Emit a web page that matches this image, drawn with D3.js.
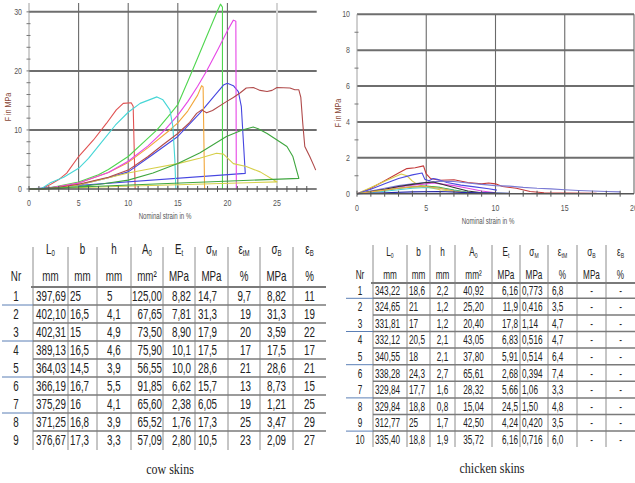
<!DOCTYPE html>
<html><head><meta charset="utf-8">
<script src="https://cdn.jsdelivr.net/npm/d3@7"></script>
<style>
html,body{margin:0;padding:0;background:#fff;}
svg{display:block;}
.n{font-family:'Liberation Sans',Arial,sans-serif;}
.cap{font-family:'Liberation Serif','Times New Roman',serif;}
</style></head><body>
<svg id="c" width="635" height="483"></svg>
<script>
// ---------- DATA ----------
// cow skins stress-strain curves: [strain %, stress MPa]
const cow1 = [[0,0],[1.2,0],[2.1,0.7],[3,1.6],[3.8,2.7],[5,5.5],[6.5,8.3],[7.8,11.1],[8.8,13.4],[9.5,14.5],[10.3,14.6],[10.5,14],[10.7,0]];
const cow2 = [[0,0],[1.5,0],[3,0.5],[5,1.2],[7,2.4],[8,3.3],[10,5.5],[12,8.6],[12.9,10],[14,12.2],[15,14.3],[16,18.2],[17,22.2],[18,26.2],[19,30.2],[19.3,31.3],[19.5,30.8],[19.5,0]];
const cow3 = [[0,0],[1.5,0],[3,0.3],[5,0.7],[8,1.9],[10,2.9],[12.2,5.5],[15,8.9],[17.2,12.8],[18.6,15.6],[19.6,17.6],[20,17.9],[20.6,17.5],[21.1,16.5],[21.4,14],[21.8,2.65],[0,0]];
const cow4 = [[0,0],[1.5,0],[3,0.4],[5,1],[8,2.8],[10,4.5],[12,7],[14.2,10],[15,11.2],[16,13.2],[17,15.9],[17.4,17.5],[17.55,17.3],[17.7,0]];
const cow5 = [[0,0],[1.5,0],[3,0.4],[5,1],[8,2.8],[10,4.7],[12,7.3],[13.7,10],[15,12.5],[16,14.8],[17,17.4],[17.9,20],[19,23.5],[20,26.8],[20.6,28.6],[20.85,28.4],[20.9,0]];
const cow6 = [[0,0],[1.2,0],[2.1,1],[3.5,2],[5,3.5],[6,5.2],[7.2,7.7],[8.7,10.8],[10,13],[11.2,14.5],[12.9,15.6],[13.5,15.1],[14.2,13.4],[14.5,10.6],[14.7,5],[14.8,0]];
const cow7 = [[0,0],[2,0],[5,0.7],[7.5,1.7],[10,2.7],[12.5,3.5],[15,4.3],[17.2,5.2],[18.9,6.05],[19.6,5.9],[20.6,4.3],[21.9,3.8],[23.3,2.9],[25,1.2],[0,0]];
const cow8 = [[0,0],[1,0],[3,0.3],[5,0.8],[8,2],[10,3.2],[12,5.5],[13.5,7.5],[15,9.4],[16.2,11.3],[16.9,12.8],[17.4,13.4],[17.9,12.9],[18.5,13.3],[19.9,14.8],[20.6,15.5],[21.3,16.3],[21.9,17.1],[22.6,17.2],[23.3,16.7],[24,16.5],[24.5,16.7],[25,17.2],[26.3,17.1],[26.8,16.8],[27.2,16.8],[27.4,15.5],[27.6,11],[27.8,7.2],[28.3,5.5],[28.7,4],[28.9,3.2]];
const cow9 = [[0,0],[1,0],[3,0.1],[5,0.4],[7.5,0.9],[10,1.5],[12.5,2.7],[15,4.3],[17.2,6.1],[19.9,8.9],[21.5,10],[22.6,10.5],[23.1,10.2],[24,9.4],[25,8.3],[26,7.2],[26.6,5.5],[27.2,1.8],[0,0]];
const cowColors = ["#e05252","#4fd64f","#4646e0","#f2a63a","#e646e6","#46d6d6","#d6cf4a","#b04a4a","#3fa63f"];

// chicken skins curves
const ch1 = [[0,0],[1,0.3],[2,0.72],[3,1.15],[3.6,1.4],[4.2,1.45],[4.8,1.55],[5,1.1],[5.3,0.85],[6,0.75],[7,0.78],[8,0.62],[9,0.55],[9.5,0.6],[10,0.55],[10.5,0.4],[11.5,0.3],[12.5,0.12],[13.5,0.05],[15,0.03],[17.3,0.02]];
const ch2 = [[0,0],[1,0.35],[2,0.7],[3.2,1.1],[3.6,1.0],[4,0.7],[4.4,0.5],[5,0.38],[6,0.22],[7,0.12],[8,0.05],[9,0.02]];
const ch3 = [[0,0],[1,0.25],[2,0.55],[3,0.85],[4,1.05],[4.7,1.15],[4.9,0.8],[5.2,0.72],[5.5,0.85],[5.8,0.8],[6.5,0.62],[7.5,0.48],[8.5,0.38],[9.5,0.28],[10.1,0.2]];
const ch4 = [[0,0],[1,0.15],[2,0.3],[3,0.45],[4,0.55],[5,0.62],[6,0.7],[7,0.68],[8,0.6],[9,0.52],[10,0.45],[11,0.42],[12,0.35],[13,0.3],[14,0.27],[15,0.22],[16,0.18],[17,0.15],[18,0.12],[19,0.1]];
const ch5 = [[0,0],[1,0.12],[2,0.25],[3,0.38],[4,0.48],[5,0.55],[5.5,0.6],[6,0.55],[7,0.45],[8,0.3],[9,0.15],[10,0.05]];
const ch6 = [[0,0],[1,0.12],[2,0.25],[3,0.4],[4,0.52],[5,0.62],[5.5,0.65],[6,0.55],[7,0.35],[8,0.15],[9,0.05],[10,0.02]];
const ch7 = [[0,0],[1,0.1],[2,0.2],[3,0.3],[4,0.38],[5,0.42],[6,0.35],[7,0.2],[8,0.08],[9,0.03],[11,0.01],[13,0.01]];
const ch8 = [[0,0],[1,0.06],[2,0.14],[3,0.22],[4,0.3],[5,0.35],[6,0.3],[7,0.18],[8,0.06],[9,0.01]];
const ch9 = [[0,0],[1,0.1],[2,0.2],[3,0.3],[4,0.38],[5,0.4],[6,0.3],[7,0.15],[8,0.05],[9,0.02]];
const ch10 = [[0,0],[2,0.05],[4,0.1],[6,0.12],[8,0.06],[10,0.03],[11,0.02]];
const chColors = ["#c43a3a","#d8cc4c","#4a4ae0","#7a7ad4","#e04ae0","#333333","#34a834","#4ad4d4","#f0a848","#2828a8"];

// tick labels
const cowXTicks = [0,5,10,15,20,25];
const cowYTicks = [0,10,20,30];
const chXTicks = [0,5,10,15,20];
const chYTicks = [0,2,4,6,8,10];
const xTitle = "Nominal strain in %";
const yTitle = "F in MPa";

// tables
const headMain = [["L","0"],["b",""],["h",""],["A","0"],["E","t"],["σ","M"],["ε","tM"],["σ","B"],["ε","B"]];
const headUnits = ["mm","mm","mm","mm²","MPa","MPa","%","MPa","%"];
const cowRows = [
["1","397,69","25","5","125,00","8,82","14,7","9,7","8,82","11"],
["2","402,10","16,5","4,1","67,65","7,81","31,3","19","31,3","19"],
["3","402,31","15","4,9","73,50","8,90","17,9","20","3,59","22"],
["4","389,13","16,5","4,6","75,90","10,1","17,5","17","17,5","17"],
["5","364,03","14,5","3,9","56,55","10,0","28,6","21","28,6","21"],
["6","366,19","16,7","5,5","91,85","6,62","15,7","13","8,73","15"],
["7","375,29","16","4,1","65,60","2,38","6,05","19","1,21","25"],
["8","371,25","16,8","3,9","65,52","1,76","17,3","25","3,47","29"],
["9","376,67","17,3","3,3","57,09","2,80","10,5","23","2,09","27"]];
const chickenRows = [
["1","343,22","18,6","2,2","40,92","6,16","0,773","6,8","-","-"],
["2","324,65","21","1,2","25,20","11,9","0,416","3,5","-","-"],
["3","331,81","17","1,2","20,40","17,8","1,14","4,7","-","-"],
["4","332,12","20,5","2,1","43,05","6,83","0,516","4,7","-","-"],
["5","340,55","18","2,1","37,80","5,91","0,514","6,4","-","-"],
["6","338,28","24,3","2,7","65,61","2,68","0,394","7,4","-","-"],
["7","329,84","17,7","1,6","28,32","5,66","1,06","3,3","-","-"],
["8","329,84","18,8","0,8","15,04","24,5","1,50","4,8","-","-"],
["9","312,77","25","1,7","42,50","4,24","0,420","3,5","-","-"],
["10","335,40","18,8","1,9","35,72","6,16","0,716","6,0","-","-"]];
const captions = ["cow skins","chicken skins"];

// ---------- DRAW ----------
const svg = d3.select("#c");

// condensed text helper
function ntext(g, x, y, str, o){
  const t = g.append("text").attr("class", o.cls || "n")
    .attr("transform", `translate(${x},${y}) scale(${o.sx||0.75},1)`)
    .attr("text-anchor", o.anchor || "start")
    .attr("font-size", o.size).attr("fill", o.fill || "#222");
  if(str !== null) t.text(str);
  return t;
}

function chart(cfg){
  const {x, y, xTicks, yTicks, xMinor, yMinor, vGrid, hGrid, curves, colors, yTop, ylabX, ylabY, xlabX, xlabY, lightV} = cfg;
  const g = svg.append("g");
  const x0 = x.range()[0], x1 = x.range()[1], y0 = y(0);
  g.selectAll("line.hg").data(hGrid).join("line").attr("class","hg")
    .attr("x1", x0).attr("x2", x1).attr("y1", d=>y(d)).attr("y2", d=>y(d))
    .attr("stroke","#6e6e6e").attr("stroke-width",2);
  g.selectAll("line.vg").data(vGrid).join("line").attr("class","vg")
    .attr("x1", d=>x(d)).attr("x2", d=>x(d)).attr("y1", yTop).attr("y2", y0)
    .attr("stroke", d=> lightV && lightV.includes(d) ? "#d4d4d4" : "#6a6a6a")
    .attr("stroke-width", d=> lightV && lightV.includes(d) ? 2 : 1.1);
  g.append("line").attr("x1",x0).attr("x2",x0).attr("y1",yTop).attr("y2",y0).attr("stroke","#a0a0a0").attr("stroke-width",1);
  g.selectAll("line.ym").data(yMinor).join("line").attr("class","ym")
    .attr("x1",x0-2.5).attr("x2",x0+1.5).attr("y1",d=>y(d)).attr("y2",d=>y(d)).attr("stroke","#777").attr("stroke-width",1);
  const line = d3.line().x(d=>x(d[0])).y(d=>y(d[1]));
  g.selectAll("path.cv").data(curves).join("path").attr("class","cv")
    .attr("d", line).attr("fill","none").attr("stroke",(d,i)=>colors[i]).attr("stroke-width",1.1)
    .attr("stroke-linejoin","round");
  g.append("line").attr("x1",x0).attr("x2",x1).attr("y1",y0).attr("y2",y0).attr("stroke","#555").attr("stroke-width",1.6);
  g.selectAll("line.xm").data(xMinor).join("line").attr("class","xm")
    .attr("x1",d=>x(d)).attr("x2",d=>x(d)).attr("y1",y0-3).attr("y2",y0+3).attr("stroke","#555").attr("stroke-width",1);
  xTicks.forEach(d=> ntext(g, x(d), y0+17, d, {anchor:"middle", size:9, fill:"#555", sx:0.78}));
  yTicks.forEach(d=> ntext(g, x0-7, y(d)+3, d, {anchor:"end", size:9, fill:"#555", sx:0.78}));
  ntext(g, xlabX, xlabY, xTitle, {anchor:"middle", size:8.5, fill:"#555", sx:0.72});
  g.append("text").attr("class","n").attr("transform",`translate(${ylabX},${ylabY}) rotate(-90) scale(0.8,1)`)
    .attr("text-anchor","middle").attr("font-size",9).attr("fill","#8a4a3a").text(yTitle);
}

const xL = d3.scaleLinear().domain([0,29]).range([29,316.7]);
const yL = d3.scaleLinear().domain([0,31.5]).range([189,3]);
chart({x:xL, y:yL, xTicks:cowXTicks, yTicks:cowYTicks, xMinor:d3.range(0,29,1), yMinor:d3.range(0,31,2),
  vGrid:[5,10,15,20,25], lightV:[25], hGrid:[10,20,30], curves:[cow1,cow2,cow3,cow4,cow5,cow6,cow7,cow8,cow9], colors:cowColors,
  yTop:3, ylabX:11, ylabY:107, xlabX:165, xlabY:219});

const xR = d3.scaleLinear().domain([0,20]).range([357,634]);
const yR = d3.scaleLinear().domain([0,10]).range([193.7,14.3]);
chart({x:xR, y:yR, xTicks:chXTicks, yTicks:chYTicks, xMinor:d3.range(0,20,1), yMinor:d3.range(1,10,2),
  vGrid:[5,10,15,20], hGrid:[2,4,6,8,10], curves:[ch1,ch2,ch3,ch4,ch5,ch6,ch7,ch8,ch9,ch10], colors:chColors,
  yTop:14.3, ylabX:341, ylabY:113, xlabX:488, xlabY:224});

function table(cfg){
  const {rows, cols, nrX, head1Y, head2Y, lineTop, rowY0, rowH, vTop, vBot, fs, sx, align, capX, capY, cap} = cfg;
  const g = svg.append("g");
  const right = cols[cols.length-1];
  cols.slice(0,-1).forEach(c=>{
    g.append("line").attr("x1",c).attr("x2",c).attr("y1",vTop).attr("y2",vBot).attr("stroke","#8c8c8c").attr("stroke-width",1);
  });
  g.append("line").attr("x1",cols[0]-2).attr("x2",right).attr("y1",lineTop).attr("y2",lineTop).attr("stroke","#7a7a7a").attr("stroke-width",2);
  for(let i=0;i<rows.length-1;i++){
    const yy = rowY0 + rowH*i + rowH/2;
    g.append("line").attr("x1",cols[0]).attr("x2",right).attr("y1",yy).attr("y2",yy).attr("stroke","#7a7a7a").attr("stroke-width",1.5);
    if(i%2===0) g.append("line").attr("x1",nrX-14).attr("x2",cols[0]).attr("y1",yy).attr("y2",yy).attr("stroke","#5b7fb5").attr("stroke-width",1);
  }
  headMain.forEach((h,i)=>{
    const cx = (cols[i]+cols[i+1])/2;
    const t = ntext(g, cx, head1Y, null, {anchor:"middle", size:fs, sx});
    t.append("tspan").text(h[0]);
    if(h[1]) t.append("tspan").attr("dy",2).attr("font-size",fs*0.62).text(h[1]);
    ntext(g, cx, head2Y, headUnits[i], {anchor:"middle", size:fs, sx});
  });
  ntext(g, nrX, head2Y, "Nr", {anchor:"middle", size:fs, sx});
  rows.forEach((r,i)=>{
    const yy = rowY0 + rowH*i + fs*0.36;
    r.forEach((v,j)=>{
      let xx, anc;
      if(j===0){ xx = nrX; anc="middle"; }
      else {
        const a = align[j-1];
        const l = cols[j-1], rr = cols[j];
        if(a[0]==="s"){ xx = l + a[1]; anc="start"; }
        else if(a[0]==="e"){ xx = rr - a[1]; anc="end"; }
        else { xx = (l+rr)/2 + a[1]; anc="middle"; }
      }
      ntext(g, xx, yy, v, {anchor:anc, size:fs, sx});
    });
  });
  ntext(g, capX, capY, cap, {anchor:"middle", size:15, sx:0.8, cls:"cap"});
}

table({rows:cowRows, cols:[33,68,97,131,163,195,228,260,293,326], nrX:16, head1Y:254, head2Y:281, lineTop:287,
  rowY0:296, rowH:18, vTop:247, vBot:450, fs:14, sx:0.7,
  align:[["s",3],["s",2],["s",10],["e",1],["e",4],["s",3],["e",9],["m",0],["m",0]],
  capX:170, capY:474, cap:captions[0]});

table({rows:chickenRows, cols:[373,407,430,455,492,520,548,577,606,635], nrX:360, head1Y:256, head2Y:279, lineTop:283,
  rowY0:290, rowH:16.6, vTop:245, vBot:447, fs:13, sx:0.63,
  align:[["s",2],["s",2],["m",0],["m",0],["e",2],["s",2],["s",4],["m",0],["m",0]],
  capX:492, capY:473, cap:captions[1]});
</script>
</body></html>
